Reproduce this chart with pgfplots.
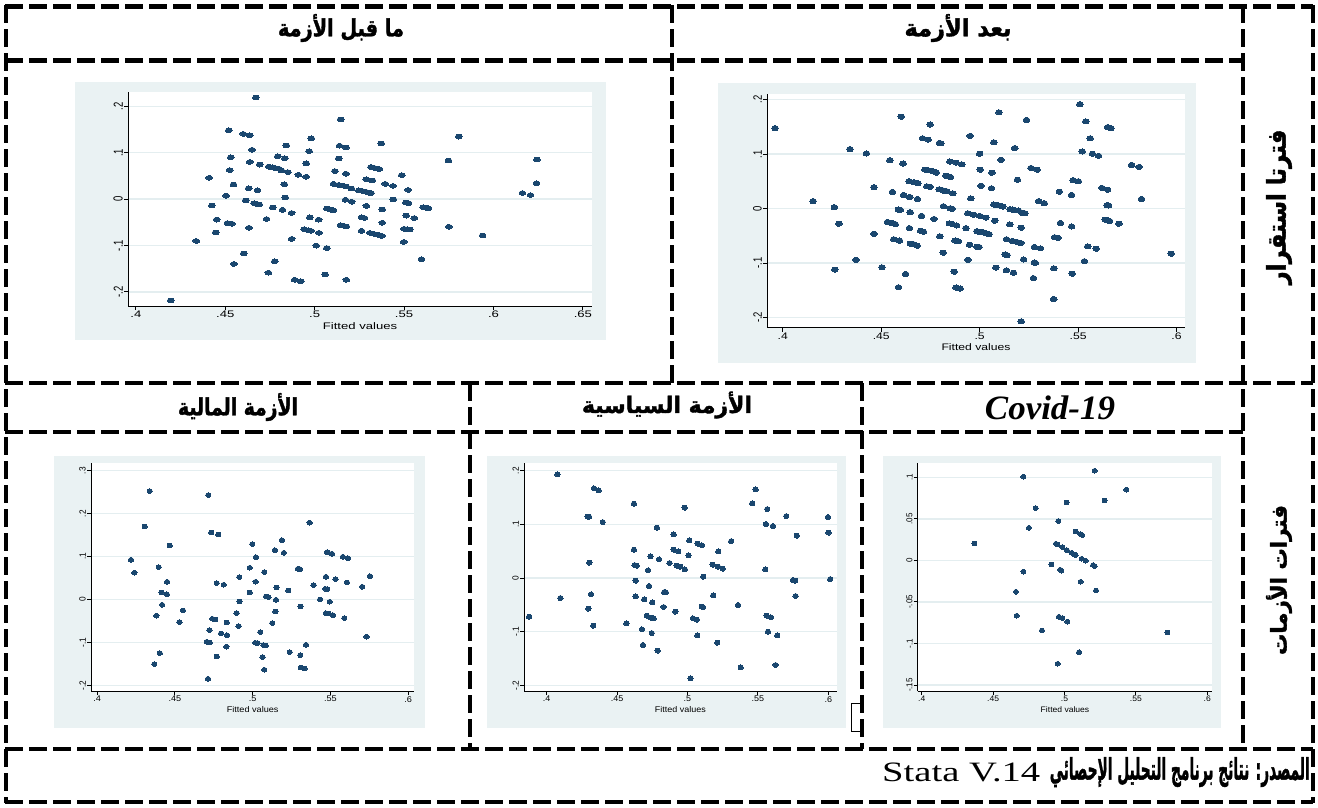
\documentclass[border=0pt]{standalone}
\usepackage{pgfplots}
\pgfplotsset{compat=1.18}
\usepackage{fontspec}
\usepackage{graphicx}
\TeXXeTstate=1
\setmainfont{Liberation Serif}
\newfontfamily\arabicfont[Script=Arabic, FakeBold=1.6]{DejaVu Sans Bold}
\newfontfamily\latinsans{Liberation Sans}
\newfontfamily\timesf{Liberation Serif}
\definecolor{stbg}{HTML}{EAF2F3}
\definecolor{stgrid}{HTML}{E4EEF0}
\definecolor{stnavy}{HTML}{1A476F}
\newcommand{\artext}[3]{\resizebox*{#1}{#2}{\arabicfont #3}}
\newcommand{\tl}[1]{\scalebox{\tlx}[1]{#1}}
\newcommand{\tly}[1]{\scalebox{1}[\tlx]{#1}}
\def\tlx{1.3}
\pgfplotsset{
  stata/.style={
    scale only axis,
    anchor=north west,
    axis lines=left,
    axis line style={-, black, line width=0.9pt},
    axis background/.style={fill=white},
    tick align=outside,
    tick pos=left,
    major tick length=4pt,
    tick style={black, line width=0.9pt},
    ymajorgrids,
    grid style={stgrid, line width=1.4pt},
    xticklabel style={anchor=north, inner sep=1pt},
    yticklabel style={rotate=90, anchor=south, inner sep=1pt},
    xlabel style={at={(axis description cs:0.5,0)}, anchor=center},
    only marks,
  },
}
\tikzset{tline/.style={line width=4.5pt, dash pattern=on 18pt off 6pt}}
\begin{document}
\begin{tikzpicture}
\useasboundingbox (0pt,0pt) rectangle (1318pt,-807pt);
% panel backgrounds
\fill[stbg] (75pt,-82pt) rectangle (606pt,-340pt);
\fill[stbg] (718pt,-83pt) rectangle (1196pt,-363pt);
\fill[stbg] (54pt,-456pt) rectangle (425pt,-728pt);
\fill[stbg] (487pt,-456pt) rectangle (846pt,-728pt);
\fill[stbg] (883pt,-456pt) rectangle (1221pt,-728pt);

% ---------- Panel 1: before the crisis
\def\tlx{1.38}
\begin{axis}[stata, at={(128pt,-92pt)}, width=464pt, height=214pt,
  xmin=0.3956, xmax=0.6551, ymin=-0.2306, ymax=0.231,
  xtick={0.4,0.45,0.5,0.55,0.6,0.65},
  xticklabels={\tl{.4},\tl{.45},\tl{.5},\tl{.55},\tl{.6},\tl{.65}},
  ytick={-0.2,-0.1,0,0.1,0.2},
  yticklabels={\tly{-.2},\tly{-.1},\tly{0},\tly{.1},\tly{.2}},
  ticklabel style={font=\latinsans\fontsize{9.5}{10}\selectfont},
  xlabel={\tl{Fitted values}}, xlabel style={yshift=-20pt, font=\latinsans\fontsize{9.5}{10}\selectfont},
]
\addplot[mark=*, mark size=2.35pt, mark options={xscale=1.45, fill=stnavy, draw=stnavy, line width=0pt}] coordinates {
(0.4671,0.219) (0.5145,0.172) (0.4520,0.1486) (0.4601,0.1406) (0.4637,0.1377) (0.4981,0.1311) (0.5805,0.1347) (0.5372,0.1202) (0.4841,0.1158) (0.5139,0.1151) (0.5175,0.1114) (0.4650,0.1063) (0.4969,0.1034) (0.4531,0.0903) (0.4794,0.0925) (0.4833,0.0881) (0.5134,0.0874) (0.5748,0.0830) (0.6243,0.0852) (0.4637,0.0801) (0.4952,0.0772) (0.4692,0.0743) (0.4743,0.0699) (0.4762,0.0685) (0.4780,0.0670) (0.4799,0.0655) (0.4814,0.0619) (0.4850,0.0583) (0.4525,0.0626) (0.5113,0.0605) (0.4909,0.0524) (0.4952,0.0481) (0.5175,0.0546) (0.5315,0.0692) (0.5330,0.0677) (0.5347,0.0663) (0.5362,0.0648) (0.5487,0.0517) (0.5289,0.0430) (0.5323,0.0401) (0.4410,0.0459) (0.4546,0.0313) (0.4830,0.0320) (0.5395,0.0328) (0.5438,0.0284) (0.5105,0.0328) (0.5134,0.0306) (0.5156,0.0291) (0.5177,0.0269) (0.5206,0.0226) (0.5523,0.0197) (0.4631,0.0233) (0.4680,0.0189) (0.5247,0.0189) (0.5266,0.0175) (0.5285,0.0160) (0.5304,0.0138) (0.5315,0.0131) (0.6162,0.0131) (0.6207,0.0087) (0.6241,0.0342) (0.4505,0.0073) (0.4835,0.0036) (0.4614,-0.0029) (0.5172,-0.0015) (0.5207,-0.0058) (0.5440,-0.0007) (0.4661,-0.0087) (0.4675,-0.0102) (0.4690,-0.0117) (0.4425,-0.0138) (0.5510,-0.0073) (0.5525,-0.0087) (0.5289,-0.0146) (0.4765,-0.0182) (0.4820,-0.0233) (0.5068,-0.0204) (0.5083,-0.0218) (0.5096,-0.0233) (0.5105,-0.0240) (0.5606,-0.0175) (0.5625,-0.0189) (0.5636,-0.0197) (0.5378,-0.0226) (0.4871,-0.0299) (0.5512,-0.0357) (0.5557,-0.0408) (0.4452,-0.0444) (0.4731,-0.0430) (0.4973,-0.0393) (0.5022,-0.0444) (0.5262,-0.0393) (0.5279,-0.0408) (0.4512,-0.0517) (0.4537,-0.0532) (0.5378,-0.0510) (0.4633,-0.0619) (0.5145,-0.0561) (0.5162,-0.0575) (0.5177,-0.0590) (0.5750,-0.0597) (0.4941,-0.0648) (0.4964,-0.0670) (0.4979,-0.0685) (0.5500,-0.0641) (0.5517,-0.0648) (0.5531,-0.0655) (0.5262,-0.0685) (0.4446,-0.0721) (0.5024,-0.0728) (0.5308,-0.0728) (0.5332,-0.0750) (0.5357,-0.0772) (0.5376,-0.0794) (0.4871,-0.0859) (0.4338,-0.0903) (0.5498,-0.0925) (0.5939,-0.0787) (0.5009,-0.1005) (0.5068,-0.1056) (0.4603,-0.1173) (0.5597,-0.1296) (0.4777,-0.1340) (0.4548,-0.1398) (0.4741,-0.1588) (0.5058,-0.1624) (0.4888,-0.1741) (0.4922,-0.1770) (0.5177,-0.1741) (0.4195,-0.2185)
};
\end{axis}

% ---------- Panel 2: after the crisis
\def\tlx{1.28}
\begin{axis}[stata, at={(767pt,-93.5pt)}, width=418pt, height=234pt,
  xmin=0.392, xmax=0.6043, ymin=-0.2185, ymax=0.2112,
  xtick={0.4,0.45,0.5,0.55,0.6},
  xticklabels={\tl{.4},\tl{.45},\tl{.5},\tl{.55},\tl{.6}},
  ytick={-0.2,-0.1,0,0.1,0.2},
  yticklabels={\tly{-.2},\tly{-.1},\tly{0},\tly{.1},\tly{.2}},
  ticklabel style={font=\latinsans\fontsize{9.5}{10}\selectfont},
  xlabel={\tl{Fitted values}}, xlabel style={yshift=-20pt, font=\latinsans\fontsize{9.5}{10}\selectfont},
]
\addplot[mark=*, mark size=2.6pt, mark options={xscale=1.28, fill=stnavy, draw=stnavy, line width=0pt}] coordinates {
(0.3961,0.1476) (0.4154,0.0136) (0.4262,0.0025) (0.4285,-0.0279) (0.4264,-0.1122) (0.4341,0.1091) (0.4372,-0.0943) (0.4425,0.1011) (0.4463,0.0391) (0.4463,-0.0465) (0.4504,-0.1079) (0.4544,0.0887) (0.4557,0.0304) (0.4532,-0.0248) (0.4549,-0.0260) (0.4571,-0.0285) (0.4564,-0.0564) (0.4593,-0.0589) (0.4588,-0.1445) (0.4602,0.1687) (0.4611,0.0825) (0.4614,0.0248) (0.4587,-0.0019) (0.4597,-0.0025) (0.4624,-0.1203) (0.4642,0.0502) (0.4666,0.0484) (0.4686,0.0465) (0.4645,0.0211) (0.4684,0.0174) (0.4647,-0.0068) (0.4705,-0.0136) (0.4643,-0.0360) (0.4700,-0.0409) (0.4715,-0.0428) (0.4648,-0.0645) (0.4666,-0.0657) (0.4683,-0.0682) (0.4710,0.1290) (0.4738,0.1265) (0.4748,0.1544) (0.4796,0.1203) (0.4803,0.1197) (0.4722,0.0713) (0.4741,0.0701) (0.4760,0.0688) (0.4775,0.0670) (0.4780,0.0657) (0.4732,0.0409) (0.4748,0.0397) (0.4794,0.0353) (0.4808,0.0341) (0.4823,0.0322) (0.4834,0.0316) (0.4816,0.0043) (0.4768,-0.0192) (0.4798,-0.0509) (0.4815,-0.0812) (0.4828,0.0602) (0.4852,0.0577) (0.4849,0.0862) (0.4880,0.0843) (0.4909,0.0812) (0.4864,0.0279) (0.4851,0.0006) (0.4861,-0.0006) (0.4846,-0.0273) (0.4861,-0.0285) (0.4883,-0.0310) (0.4875,-0.0589) (0.4892,-0.0602) (0.4871,-0.1160) (0.4880,-0.1451) (0.4901,-0.1470) (0.4930,-0.0360) (0.4940,-0.0087) (0.4969,-0.0112) (0.5000,-0.0136) (0.5031,-0.0167) (0.4955,0.0186) (0.4952,0.1333) (0.5000,0.1005) (0.5003,0.0713) (0.5007,0.0416) (0.4986,-0.0416) (0.4995,-0.0428) (0.5017,-0.0434) (0.5031,-0.0453) (0.5048,-0.0471) (0.4949,-0.0664) (0.4986,-0.0701) (0.4997,-0.0707) (0.4940,-0.0943) (0.5072,0.1216) (0.5098,0.1767) (0.5062,0.0657) (0.5060,0.0372) (0.5108,0.0893) (0.5072,0.0074) (0.5093,0.0062) (0.5106,0.0050) (0.5117,0.0037) (0.5077,-0.0223) (0.5154,-0.0012) (0.5166,-0.0019) (0.5180,-0.0031) (0.5197,-0.0037) (0.5153,-0.0291) (0.5136,-0.0564) (0.5166,-0.0595) (0.5189,-0.0614) (0.5209,-0.0633) (0.5129,-0.0843) (0.5139,-0.0856) (0.5082,-0.1085) (0.5136,-0.1135) (0.5172,-0.1178) (0.5178,0.1110) (0.5192,0.0527) (0.5238,0.1625) (0.5218,-0.0081) (0.5230,-0.0087) (0.5211,-0.0353) (0.5223,-0.0936) (0.5211,-0.2071) (0.5261,0.0744) (0.5292,0.0713) (0.5300,0.0136) (0.5328,0.0099) (0.5278,-0.0707) (0.5309,-0.0732) (0.5278,-0.0992) (0.5283,-0.0998) (0.5273,-0.1278) (0.5405,0.0310) (0.5410,-0.0267) (0.5381,-0.0527) (0.5398,-0.0540) (0.5377,-0.1098) (0.5376,-0.1662) (0.5467,0.0248) (0.5467,-0.0329) (0.5470,-0.1197) (0.5475,0.0521) (0.5501,0.0502) (0.5509,0.1916) (0.5539,0.1600) (0.5561,0.1290) (0.5521,0.1048) (0.5573,0.1005) (0.5604,0.0967) (0.5532,-0.0967) (0.5549,-0.0695) (0.5592,-0.0738) (0.5621,0.0378) (0.5650,0.0347) (0.5647,0.0062) (0.5655,0.0056) (0.5638,-0.0205) (0.5652,-0.0217) (0.5660,-0.0229) (0.5650,0.1495) (0.5667,0.1476) (0.5707,-0.0279) (0.5772,0.0800) (0.5810,0.0763) (0.5822,0.0174) (0.5973,-0.0831)
};
\end{axis}

% ---------- Panel 3: financial crisis
\def\tlx{1.1}
\begin{axis}[stata, at={(91pt,-463.3pt)}, width=323.3pt, height=227.7pt,
  xmin=0.3961, xmax=0.6039, ymin=-0.2133, ymax=0.317,
  xtick={0.4,0.45,0.5,0.55,0.6},
  xticklabels={\tl{.4},\tl{.45},\tl{.5},\tl{.55},\tl{.6}},
  ytick={-0.2,-0.1,0,0.1,0.2,0.3},
  yticklabels={\tly{-.2},\tly{-.1},\tly{0},\tly{.1},\tly{.2},\tly{.3}},
  ticklabel style={font=\latinsans\fontsize{8.3}{9}\selectfont},
  xlabel={\tl{Fitted values}}, xlabel style={yshift=-19pt, font=\latinsans\fontsize{8.3}{9}\selectfont},
]
\addplot[mark=*, mark size=2.35pt, mark options={xscale=1.13, fill=stnavy, draw=stnavy, line width=0pt}] coordinates {
(0.4338,0.2523) (0.4715,0.2430) (0.4306,0.1700) (0.5366,0.1786) (0.4734,0.1561) (0.4779,0.1514) (0.4467,0.1258) (0.4998,0.1289) (0.5188,0.1382) (0.5143,0.1149) (0.5201,0.1087) (0.5021,0.0986) (0.4218,0.0924) (0.4396,0.0753) (0.4240,0.0621) (0.4981,0.0738) (0.5075,0.0637) (0.5291,0.0714) (0.5304,0.0707) (0.5478,0.1102) (0.5484,0.1095) (0.5510,0.1064) (0.5580,0.0994) (0.5612,0.0963) (0.5471,0.0528) (0.5533,0.0474) (0.5606,0.0396) (0.5754,0.0543) (0.5704,0.0295) (0.4450,0.0411) (0.4914,0.0520) (0.5019,0.0411) (0.4769,0.0380) (0.4814,0.0342) (0.5392,0.0334) (0.4415,0.0163) (0.4448,0.0124) (0.4981,0.0163) (0.5154,0.0280) (0.5229,0.0210) (0.5467,0.0248) (0.5480,0.0241) (0.5086,0.0070) (0.5101,0.0054) (0.5150,-0.0008) (0.5433,0.0) (0.5495,-0.0054) (0.4916,-0.0047) (0.4418,-0.0124) (0.4552,-0.0256) (0.5146,-0.0280) (0.5308,-0.0163) (0.4897,-0.0318) (0.4381,-0.0380) (0.5471,-0.0318) (0.5488,-0.0326) (0.5516,-0.0365) (0.5589,-0.0435) (0.4741,-0.0450) (0.4760,-0.0466) (0.4529,-0.0528) (0.4833,-0.0536) (0.5126,-0.0551) (0.4910,-0.0621) (0.4722,-0.0714) (0.5049,-0.0761) (0.4797,-0.0792) (0.4835,-0.0831) (0.5732,-0.0870) (0.4705,-0.0986) (0.4724,-0.1002) (0.5017,-0.1009) (0.5032,-0.1017) (0.5069,-0.1064) (0.5084,-0.1071) (0.5343,-0.1056) (0.4831,-0.1102) (0.4403,-0.1250) (0.5238,-0.1227) (0.5306,-0.1297) (0.4769,-0.1328) (0.5064,-0.1343) (0.4368,-0.1506) (0.5310,-0.1584) (0.5334,-0.1607) (0.5075,-0.1638) (0.4713,-0.1848)
};
\end{axis}

% ---------- Panel 4: political crisis
\def\tlx{1.08}
\begin{axis}[stata, at={(524pt,-463pt)}, width=312.7pt, height=228pt,
  xmin=0.3839, xmax=0.606, ymin=-0.2106, ymax=0.2144,
  xtick={0.4,0.45,0.5,0.55,0.6},
  xticklabels={\tl{.4},\tl{.45},\tl{.5},\tl{.55},\tl{.6}},
  ytick={-0.2,-0.1,0,0.1,0.2},
  yticklabels={\tly{-.2},\tly{-.1},\tly{0},\tly{.1},\tly{.2}},
  ticklabel style={font=\latinsans\fontsize{8.3}{9}\selectfont},
  xlabel={\tl{Fitted values}}, xlabel style={yshift=-19pt, font=\latinsans\fontsize{8.3}{9}\selectfont},
]
\addplot[mark=*, mark size=2.5pt, mark options={xscale=1.07, fill=stnavy, draw=stnavy, line width=0pt}] coordinates {
(0.3875,-0.0720) (0.4076,0.1932) (0.4097,-0.0373) (0.4291,0.1143) (0.4301,0.1143) (0.4336,0.1671) (0.4369,0.1634) (0.4398,0.1043) (0.4303,0.0286) (0.4315,-0.0304) (0.4296,-0.0571) (0.4331,-0.0888) (0.4566,-0.0845) (0.4620,0.1385) (0.4620,0.0528) (0.4625,0.0242) (0.4639,0.0230) (0.4632,-0.0050) (0.4632,-0.0342) (0.4677,-0.0957) (0.4684,-0.1248) (0.4693,-0.0398) (0.4720,0.0143) (0.4727,-0.0149) (0.4738,0.0404) (0.4750,-0.0453) (0.4712,-0.0702) (0.4738,-0.0739) (0.4760,-0.0752) (0.4746,-0.1025) (0.4783,0.0938) (0.4788,-0.1354) (0.4798,0.0348) (0.4835,-0.0261) (0.4847,-0.0267) (0.4831,-0.0540) (0.4873,0.0280) (0.4902,0.0814) (0.4902,0.0528) (0.4935,0.0497) (0.4923,0.0230) (0.4949,0.0211) (0.4914,-0.0627) (0.4980,0.1311) (0.4982,0.0161) (0.5013,0.0702) (0.5008,0.0422) (0.5039,-0.0752) (0.5067,-0.0776) (0.5070,-0.1068) (0.5022,-0.1870) (0.5072,0.0640) (0.5103,0.0609) (0.5101,-0.0534) (0.5110,-0.0540) (0.5112,0.0025) (0.5179,0.0248) (0.5183,-0.0323) (0.5217,0.0211) (0.5250,0.0174) (0.5219,0.0497) (0.5212,-0.1205) (0.5311,0.0689) (0.5359,-0.0503) (0.5378,-0.1665) (0.5460,0.1391) (0.5484,0.1652) (0.5567,0.1286) (0.5557,0.1006) (0.5607,0.0969) (0.5553,0.0161) (0.5562,-0.0702) (0.5593,-0.0733) (0.5572,-0.1000) (0.5638,-0.1068) (0.5626,-0.1621) (0.5702,0.1155) (0.5777,0.0789) (0.5751,-0.0037) (0.5766,-0.0050) (0.5768,-0.0335) (0.5998,0.1137) (0.6002,0.0845) (0.6014,-0.0019)
};
\end{axis}

% ---------- Panel 5: Covid-19
\def\tlx{1.07}
\begin{axis}[stata, at={(917.7pt,-463pt)}, width=294.6pt, height=228pt,
  xmin=0.3972, xmax=0.6035, ymin=-0.1572, ymax=0.1172,
  xtick={0.4,0.45,0.5,0.55,0.6},
  xticklabels={\tl{.4},\tl{.45},\tl{.5},\tl{.55},\tl{.6}},
  ytick={-0.15,-0.1,-0.05,0,0.05,0.1},
  yticklabels={\tly{-.15},\tly{-.1},\tly{-.05},\tly{0},\tly{.05},\tly{.1}},
  ticklabel style={font=\latinsans\fontsize{8}{9}\selectfont},
  xlabel={\tl{Fitted values}}, xlabel style={yshift=-19pt, font=\latinsans\fontsize{8}{9}\selectfont},
]
\addplot[mark=*, mark size=2.35pt, mark options={xscale=1.07, fill=stnavy, draw=stnavy, line width=0pt}] coordinates {
(0.4369,0.0205) (0.4712,0.1007) (0.5211,0.1079) (0.5433,0.0851) (0.5281,0.0722) (0.5015,0.0698) (0.4798,0.0630) (0.4957,0.0474) (0.4751,0.0393) (0.5078,0.0349) (0.5111,0.0317) (0.5123,0.0305) (0.4940,0.0201) (0.4950,0.0193) (0.4985,0.0161) (0.5017,0.0124) (0.5050,0.0092) (0.5069,0.0072) (0.5078,0.0064) (0.5120,0.0020) (0.5148,-0.0004) (0.5200,-0.0056) (0.5211,-0.0068) (0.4908,-0.0048) (0.4712,-0.0136) (0.4969,-0.0112) (0.4978,-0.0124) (0.5113,-0.0257) (0.5221,-0.0361) (0.4660,-0.0377) (0.4665,-0.0666) (0.4961,-0.0678) (0.4985,-0.0694) (0.5020,-0.0738) (0.4842,-0.0843) (0.5720,-0.0867) (0.5102,-0.1104) (0.4952,-0.1244)
};
\end{axis}

% ---------- table lines
\draw[tline] (5pt,-6.5pt) -- (1313pt,-6.5pt);
\draw[tline] (5pt,-60.5pt) -- (1243pt,-60.5pt);
\draw[tline] (5pt,-383pt) -- (1313pt,-383pt);
\draw[tline] (5pt,-432pt) -- (1243pt,-432pt);
\draw[tline] (5pt,-749pt) -- (1313pt,-749pt);
\draw[tline] (5pt,-802pt) -- (1313pt,-802pt);
\draw[tline] (6pt,-5pt) -- (6pt,-803pt);
\draw[tline] (1313pt,-5pt) -- (1313pt,-803pt);
\draw[tline] (1243pt,-5pt) -- (1243pt,-749pt);
\draw[tline] (672pt,-5pt) -- (672pt,-383pt);
\draw[tline] (470pt,-383pt) -- (470pt,-749pt);
\draw[tline] (862pt,-383pt) -- (862pt,-749pt);
\draw[line width=1pt] (860pt,-703pt) -- (851pt,-703pt) -- (851pt,-731pt) -- (860pt,-731pt);

% ---------- headers
\node at (341pt,-28pt) {\artext{126pt}{28pt}{\beginR ما قبل الأزمة\endR}};
\node at (958pt,-28pt) {\artext{107pt}{28pt}{\beginR بعد الأزمة\endR}};
\node at (238pt,-407pt) {\artext{120pt}{28pt}{\beginR الأزمة المالية\endR}};
\node at (667pt,-405pt) {\artext{170pt}{27pt}{\beginR الأزمة السياسية\endR}};
\node at (1050pt,-408pt) {\resizebox*{130pt}{24pt}{\timesf\bfseries\itshape Covid-19}};
\node[rotate=90] at (1279pt,-207pt) {\artext{155pt}{26pt}{\beginR فترتا استقرار\endR}};
\node[rotate=90] at (1279pt,-580pt) {\artext{150pt}{26pt}{\beginR فترات الأزمات\endR}};
% ---------- footer
\node[anchor=east, inner sep=0pt] at (1310pt,-772pt) {\artext{260pt}{30pt}{\beginR المصدر: نتائج برنامج التحليل الإحصائي\endR}};
\node[anchor=west, inner sep=0pt] at (882pt,-772pt) {\resizebox*{158pt}{19pt}{\timesf Stata V.14}};
\end{tikzpicture}
\end{document}
